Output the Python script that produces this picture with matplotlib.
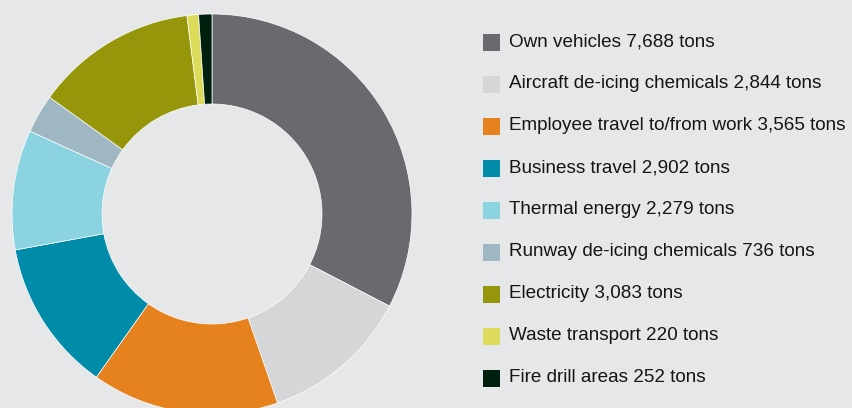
import matplotlib
matplotlib.use('Agg')
import matplotlib.pyplot as plt
from matplotlib.patches import Rectangle

categories = ['Own vehicles', 'Aircraft de-icing chemicals', 'Employee travel to/from work',
              'Business travel', 'Thermal energy', 'Runway de-icing chemicals',
              'Electricity', 'Waste transport', 'Fire drill areas']
tons = [7688, 2844, 3565, 2902, 2279, 736, 3083, 220, 252]
colors = ['#696a6e', '#d5d6d8', '#e6821e', '#008ca8', '#8bd3e0',
          '#9eb7c3', '#95960a', '#dcdc5a', '#00200f']

bg = '#e6e7e8'
W, H = 852, 408

fig = plt.figure(figsize=(W / 100, H / 100), dpi=100, facecolor=bg)
ax = fig.add_axes([0, 0, 1, 1])
ax.set_facecolor(bg)

# donut, pixel coordinates (y up)
ax.pie(tons, colors=colors, startangle=90, counterclock=False,
       center=(212, H - 214), radius=200, frame=True,
       wedgeprops=dict(width=90, edgecolor='white', linewidth=0.5))

# legend drawn by hand
for i, (name, val, c) in enumerate(zip(categories, tons, colors)):
    yc = H - (42 + i * 42)
    ax.add_patch(Rectangle((483, yc - 8.5), 17, 17, facecolor=c, edgecolor='none'))
    ax.text(509, yc, f'{name} {val:,} tons', va='center', ha='left',
            fontsize=13.6, family='Liberation Sans', color='#151515')

ax.set_xlim(0, W)
ax.set_ylim(0, H)
ax.set_aspect('equal')
ax.axis('off')

fig.savefig('out.png', dpi=100, facecolor=bg)
